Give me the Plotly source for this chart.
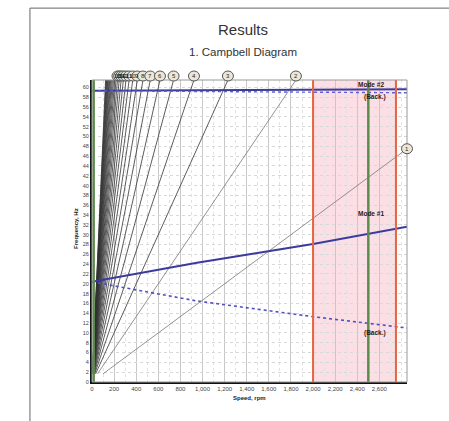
import plotly.graph_objects as go

# ---- data ----
orders = list(range(1, 31))            # excitation orders (1x, 2x, ...)
labeled_orders = list(range(1, 17))    # orders with circle labels
speed_min_line = 100                    # rpm*order at start of excitation lines

mode1_rpm = [0, 950, 2000, 2850]
mode1_fwd = [20.4, 24.3, 28.1, 31.6]
mode1_back = [20.4, 16.5, 13.3, 11.0]
mode2_rpm = [0, 1000, 2000, 2850]
mode2_fwd = [59.3, 59.4, 59.5, 59.6]
mode2_back = [59.3, 59.2, 59.0, 58.9]

red_speeds = [2000, 2750]
green_speeds = [15, 2500]
band = [2000, 2750]

x_max = 2850
y_max = 61.5
x_ticks = list(range(0, 2601, 200))
y_ticks = list(range(0, 61, 2))

FONT = "Liberation Sans"

fig = go.Figure()

# excitation lines
for n in orders:
    x0 = speed_min_line / n
    x1 = min(x_max, y_max * 60 / n)
    col = "#777777" if n <= 2 else "#333333"
    fig.add_trace(go.Scatter(x=[x0, x1], y=[n * x0 / 60, n * x1 / 60], mode="lines",
                             line=dict(color=col, width=0.8), hoverinfo="skip", showlegend=False))

# modes
fig.add_trace(go.Scatter(x=mode1_rpm, y=mode1_fwd, mode="lines",
                         line=dict(color="#3b3b9e", width=2), showlegend=False))
fig.add_trace(go.Scatter(x=mode1_rpm, y=mode1_back, mode="lines",
                         line=dict(color="#5050c0", width=1.6, dash="dot"), showlegend=False))
fig.add_trace(go.Scatter(x=mode2_rpm, y=mode2_fwd, mode="lines",
                         line=dict(color="#3b3b9e", width=2), showlegend=False))
fig.add_trace(go.Scatter(x=mode2_rpm, y=mode2_back, mode="lines",
                         line=dict(color="#6060d0", width=1.4, dash="dot"), showlegend=False))

shapes = []
shapes.append(dict(type="rect", xref="x", yref="paper", x0=band[0], x1=band[1], y0=0, y1=1,
                   fillcolor="rgba(245,160,180,0.35)", line=dict(width=0), layer="below"))
for s in red_speeds:
    shapes.append(dict(type="line", xref="x", yref="paper", x0=s, x1=s, y0=0, y1=1,
                       line=dict(color="#e8643c", width=2)))
for s in green_speeds:
    shapes.append(dict(type="line", xref="x", yref="paper", x0=s, x1=s, y0=0, y1=1,
                       line=dict(color="#5c8c4c", width=2.5)))
# plot border (light)
shapes.append(dict(type="rect", xref="paper", yref="paper", x0=0, x1=1, y0=0, y1=1,
                   line=dict(color="#999999", width=1)))
# page frame
shapes.append(dict(type="line", xref="paper", yref="paper", x0=-0.197, x1=-0.197, y0=1.238, y1=-0.15,
                   line=dict(color="#666666", width=1)))
shapes.append(dict(type="line", xref="paper", yref="paper", x0=-0.197, x1=1.2, y0=1.238, y1=1.238,
                   line=dict(color="#666666", width=1)))

annos = [
    dict(text="Results", x=0.479, y=1.166, xref="paper", yref="paper", showarrow=False,
         xanchor="center", yanchor="middle",
         font=dict(size=15, color="#333333", family=FONT)),
    dict(text="1. Campbell Diagram", x=0.479, y=1.093, xref="paper", yref="paper", showarrow=False,
         xanchor="center", yanchor="middle",
         font=dict(size=11.5, color="#333333", family=FONT)),
    dict(text="<b>Frequency, Hz</b>", x=-0.051, y=0.51, xref="paper", yref="paper", showarrow=False,
         xanchor="center", yanchor="middle", textangle=-90,
         font=dict(size=6, color="#222222", family=FONT)),
    dict(text="<b>Speed, rpm</b>", x=0.50, y=-0.053, xref="paper", yref="paper", showarrow=False,
         xanchor="center", yanchor="middle",
         font=dict(size=6, color="#222222", family=FONT)),
]
mode_labels = [("<b>Mode #2</b>", 2520, 60.6), ("<b>(Back.)</b>", 2560, 58.0),
               ("<b>Mode #1</b>", 2520, 34.3), ("<b>(Back.)</b>", 2560, 9.9)]
for t, x, y in mode_labels:
    annos.append(dict(text=t, x=x, y=y, xref="x", yref="y", showarrow=False,
                      xanchor="center", yanchor="middle",
                      font=dict(size=6.5, color="#222222", family=FONT)))

# order labels: circles (paper-referenced so they are not clipped) on line ends
for n in sorted(labeled_orders, reverse=True):
    xe = y_max * 60 / n
    if xe > x_max:
        px, py, dy = 1.0, (n * x_max / 60) / y_max, 0
    else:
        px, py, dy = xe / x_max, 1.0, 4
    shapes.append(dict(type="circle", xref="paper", yref="paper", xsizemode="pixel", ysizemode="pixel",
                       xanchor=px, yanchor=py, x0=-5.5, x1=5.5, y0=dy - 5, y1=dy + 5,
                       fillcolor="#ebe7d8", line=dict(color="#555555", width=1)))
    annos.append(dict(text=str(n), x=px, y=py, yshift=dy, xref="paper", yref="paper", showarrow=False,
                      xanchor="center", yanchor="middle",
                      font=dict(size=6, color="#222222", family=FONT)))

fig.update_layout(
    width=449, height=421,
    margin=dict(l=92, r=42, t=80, b=39),
    paper_bgcolor="white", plot_bgcolor="white",
    shapes=shapes, annotations=annos,
    xaxis=dict(range=[0, x_max], tickvals=x_ticks, tickformat=",d",
               tickfont=dict(size=6, color="#444444", family=FONT),
               showgrid=True, gridcolor="#c8c8c8", gridwidth=0.7,
               minor=dict(dtick=100, showgrid=True, gridcolor="#e2e2e2", griddash="dot"),
               showline=True, linecolor="#111111", linewidth=2, zeroline=False, ticks="",
               automargin=False),
    yaxis=dict(range=[0, y_max], tickvals=y_ticks,
               tickfont=dict(size=5.5, color="#444444", family=FONT),
               showgrid=True, gridcolor="#d8d8d8", gridwidth=0.7, griddash="dot",
               showline=True, linecolor="#111111", linewidth=2, zeroline=False, ticks="",
               automargin=False),
)

fig.write_html("out.html", config={"displayModeBar": False},
               post_script="document.body.style.margin='0';")
